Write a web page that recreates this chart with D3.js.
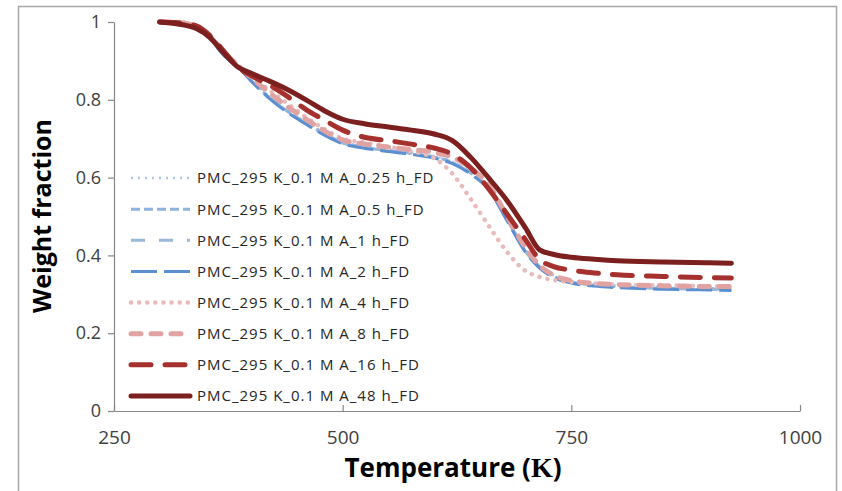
<!DOCTYPE html>
<html><head><meta charset="utf-8">
<script src="https://cdn.jsdelivr.net/npm/d3@7/dist/d3.min.js"></script>
<style>body{margin:0;background:#fff;}svg{display:block;}</style>
</head><body>
<svg id="c" width="842" height="491"></svg>
<script>
const temps = [300,320,340,355,370,385,400,420,440,460,480,500,525,550,575,600,620,640,660,680,700,715,730,750,775,800,850,900,925];
const w_025h = [1,0.997,0.986,0.96,0.918,0.888,0.852,0.808,0.772,0.742,0.715,0.693,0.68,0.672,0.665,0.655,0.641,0.614,0.574,0.495,0.415,0.374,0.35,0.334,0.326,0.322,0.318,0.316,0.315];
const w_05h  = [1,0.997,0.985,0.958,0.916,0.887,0.85,0.806,0.77,0.74,0.713,0.691,0.678,0.67,0.663,0.653,0.639,0.612,0.572,0.492,0.412,0.372,0.347,0.332,0.324,0.32,0.316,0.314,0.313];
const w_1h   = [1,0.997,0.985,0.957,0.915,0.886,0.849,0.805,0.769,0.739,0.711,0.689,0.677,0.669,0.662,0.652,0.638,0.611,0.571,0.491,0.41,0.37,0.346,0.331,0.323,0.319,0.315,0.313,0.312];
const w_2h   = [1,0.997,0.985,0.957,0.914,0.885,0.848,0.803,0.767,0.737,0.709,0.687,0.675,0.667,0.66,0.65,0.636,0.609,0.568,0.488,0.408,0.368,0.344,0.329,0.321,0.317,0.313,0.311,0.31];
const w_4h   = [1,1,0.99,0.965,0.925,0.89,0.86,0.825,0.79,0.755,0.725,0.7,0.69,0.68,0.668,0.65,0.61,0.545,0.475,0.408,0.36,0.345,0.337,0.332,0.328,0.325,0.323,0.321,0.32];
const w_8h   = [1,0.999,0.988,0.962,0.922,0.889,0.857,0.818,0.782,0.75,0.72,0.697,0.686,0.678,0.672,0.665,0.652,0.625,0.58,0.5,0.42,0.375,0.35,0.335,0.328,0.325,0.322,0.32,0.32];
const w_16h  = [1,0.998,0.99,0.965,0.925,0.885,0.862,0.838,0.808,0.775,0.748,0.722,0.703,0.695,0.686,0.676,0.66,0.625,0.57,0.505,0.44,0.39,0.372,0.362,0.355,0.35,0.346,0.343,0.342];
const w_48h  = [1,0.995,0.983,0.96,0.92,0.885,0.868,0.848,0.826,0.8,0.772,0.75,0.738,0.73,0.722,0.712,0.695,0.652,0.598,0.54,0.47,0.415,0.403,0.395,0.39,0.386,0.383,0.381,0.38];
const seriesNames = ["PMC_295 K_0.1 M A_0.25 h_FD","PMC_295 K_0.1 M A_0.5 h_FD","PMC_295 K_0.1 M A_1 h_FD","PMC_295 K_0.1 M A_2 h_FD","PMC_295 K_0.1 M A_4 h_FD","PMC_295 K_0.1 M A_8 h_FD","PMC_295 K_0.1 M A_16 h_FD","PMC_295 K_0.1 M A_48 h_FD"];
const seriesValues = [w_025h,w_05h,w_1h,w_2h,w_4h,w_8h,w_16h,w_48h];
const xTicks = [250,500,750,1000];
const yTicks = [0,0.2,0.4,0.6,0.8,1];

const styles = [
  {c:"#a9c6e8", w:2.5, d:"2,5", cap:"butt"},
  {c:"#8fb3da", w:3, d:"9,4", cap:"butt"},
  {c:"#9bb7d8", w:3, d:"14,14", cap:"butt"},
  {c:"#5b8fcf", w:3, d:"26,7", cap:"butt"},
  {c:"#e8bcbc", w:4.5, d:"0.1,8", cap:"round"},
  {c:"#e0a3a2", w:5, d:"10,10", cap:"round"},
  {c:"#a5302e", w:5, d:"20,14", cap:"round"},
  {c:"#7b1f1f", w:5, d:null, cap:"round"}
];

const svg = d3.select("#c");
svg.append("path").attr("d","M18.5,491 L18.5,6.5 L836.5,6.5 L836.5,491").attr("fill","none").attr("stroke","#a6a6a6").attr("stroke-width",1.5);

const x = d3.scaleLinear().domain([250,1000]).range([114,800]);
const y = d3.scaleLinear().domain([0,1]).range([411,22]);

const gx = svg.append("g").attr("transform","translate(0,411)")
  .call(d3.axisBottom(x).tickValues(xTicks).tickSizeInner(-6).tickSizeOuter(0).tickPadding(20).tickFormat(d3.format("d")));
const gy = svg.append("g").attr("transform","translate(114,0)")
  .call(d3.axisLeft(y).tickValues(yTicks).tickSizeInner(6).tickSizeOuter(0).tickPadding(7).tickFormat(d=>d===0||d===1?String(d):d.toFixed(1)));
[gx,gy].forEach(g=>{
  g.select(".domain").attr("stroke","#868686").attr("stroke-width",1.2);
  g.selectAll(".tick line").attr("stroke","#868686").attr("stroke-width",1.2);
  g.selectAll(".tick text").attr("fill","#404040").attr("font-family","'Open Sans', sans-serif").attr("font-size",18);
});
gx.selectAll(".tick text").attr("font-size",19);

const line = d3.line().x(d=>x(d[0])).y(d=>y(d[1])).curve(d3.curveMonotoneX);
seriesValues.forEach((vals,i)=>{
  const s = styles[i];
  svg.append("path").datum(temps.map((t,k)=>[t,vals[k]]))
    .attr("d",line).attr("fill","none").attr("stroke",s.c).attr("stroke-width",s.w)
    .attr("stroke-dasharray",s.d).attr("stroke-linecap",s.cap).attr("stroke-linejoin","round");
});

// legend
const ly = d3.scalePoint().domain(seriesNames).range([178,396]);
seriesNames.forEach((n,i)=>{
  const s = styles[i];
  svg.append("line").attr("x1",131).attr("x2",190).attr("y1",ly(n)).attr("y2",ly(n))
    .attr("stroke",s.c).attr("stroke-width",s.w).attr("stroke-dasharray",s.d).attr("stroke-linecap",s.cap);
  svg.append("text").attr("x",197).attr("y",ly(n)).attr("dy","0.36em").text(n)
    .attr("font-family","'Open Sans', sans-serif").attr("font-size",15).attr("letter-spacing","1px").attr("fill","#262626");
});

// axis titles
svg.append("text").attr("x",453).attr("y",477).attr("text-anchor","middle")
  .attr("font-family","'Open Sans', sans-serif").attr("font-weight","bold").attr("font-size",26).attr("fill","#000")
  .call(t=>{t.append("tspan").text("Temperature (");
            t.append("tspan").attr("font-family","'Liberation Serif', serif").attr("font-size",28).text("K");
            t.append("tspan").text(")");});
svg.append("text").attr("transform","translate(51,216) rotate(-90)").attr("text-anchor","middle")
  .attr("font-family","'Open Sans', sans-serif").attr("font-weight","bold").attr("font-size",25).attr("fill","#000")
  .text("Weight fraction");
</script>
</body></html>
